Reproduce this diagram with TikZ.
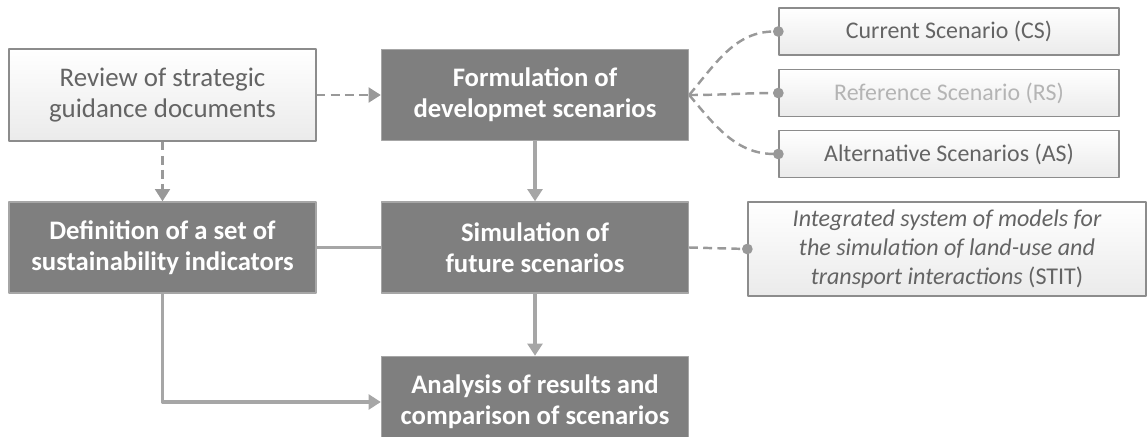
\documentclass[tikz,border=0pt]{standalone}
\usepackage{fontspec}
\setmainfont{Carlito}
\usetikzlibrary{arrows.meta}
\definecolor{boxgray}{HTML}{7F7F7F}
\definecolor{linegray}{HTML}{A6A6A6}
\definecolor{dashgray}{HTML}{999999}
\definecolor{txtgray}{HTML}{646464}
\definecolor{fadegray}{HTML}{B4B4B4}
\begin{document}
\begin{tikzpicture}[x=0.02cm, y=-0.02cm, line join=round, >={Triangle[length=7pt,width=8.5pt]},
	darkbox/.style={draw=black!35, line width=0.8pt, fill=boxgray, text=white, font=\fontsize{15.2}{17.5}\selectfont\bfseries, align=center, minimum width=6.14cm, minimum height=1.82cm, inner sep=0pt},
	lightbox/.style={draw=black!45, line width=0.8pt, top color=white, bottom color=black!8, text=txtgray, font=\fontsize{15.3}{17.5}\selectfont, align=center, minimum width=6.14cm, minimum height=1.84cm, inner sep=0pt},
	scenbox/.style={lightbox, minimum width=6.8cm, minimum height=0.94cm, font=\fontsize{13.6}{16}\selectfont},
	solidline/.style={draw=linegray, line width=2pt},
	dashline/.style={draw=dashgray, line width=1.4pt, dash pattern=on 5pt off 3pt},
	dotend/.style={-{Circle[length=6pt]}, shorten >=-3pt}]
			\clip (0,0) rectangle (1148,436);
			
			\node[lightbox] (review) at (162.5,95) {Review of strategic\\guidance documents};
			\node[darkbox] (formul) at (535,95) {Formulation of\\developmet scenarios};
			\node[darkbox] (defin) at (162.5,247.5) {Definition of a set of\\sustainability indicators};
			\node[darkbox] (simul) at (535,247.5) {Simulation of\\future scenarios};
			\node[darkbox] (analys) at (535,402) {Analysis of results and\\comparison of scenarios};
			
			\node[scenbox] (cs) at (949,31.5) {Current Scenario (CS)};
			\node[scenbox, text=fadegray] (rs) at (949,93) {Reference Scenario (RS)};
			\node[scenbox] (as) at (949,154) {Alternative Scenarios (AS)};
			\node[lightbox, minimum width=7.96cm, minimum height=1.88cm, font=\fontsize{13.7}{16.7}\selectfont] (stit) at (947,249) {\itshape Integrated system of models for\\\itshape the simulation of land-use and\\\itshape transport interactions \upshape(STIT)};
			
			\draw[dashline, ->] (review) -- (formul);
			\draw[dashline, ->] (review) -- (defin);
			\draw[solidline, ->] (formul) -- (simul);
			\draw[solidline] (defin) -- (simul);
			\draw[solidline, ->] (simul) -- (analys);
			\draw[solidline, ->] (defin.south) |- (analys.west);
			
			\draw[dashline, dotend] (simul.east) -- (stit.west);
			\foreach \scen/\bend in {cs/50, rs/0, as/-50}
			\draw[dashline, dotend] (formul.east) to[out=\bend, in=180] (\scen.west);
		\end{tikzpicture}
\end{document}
